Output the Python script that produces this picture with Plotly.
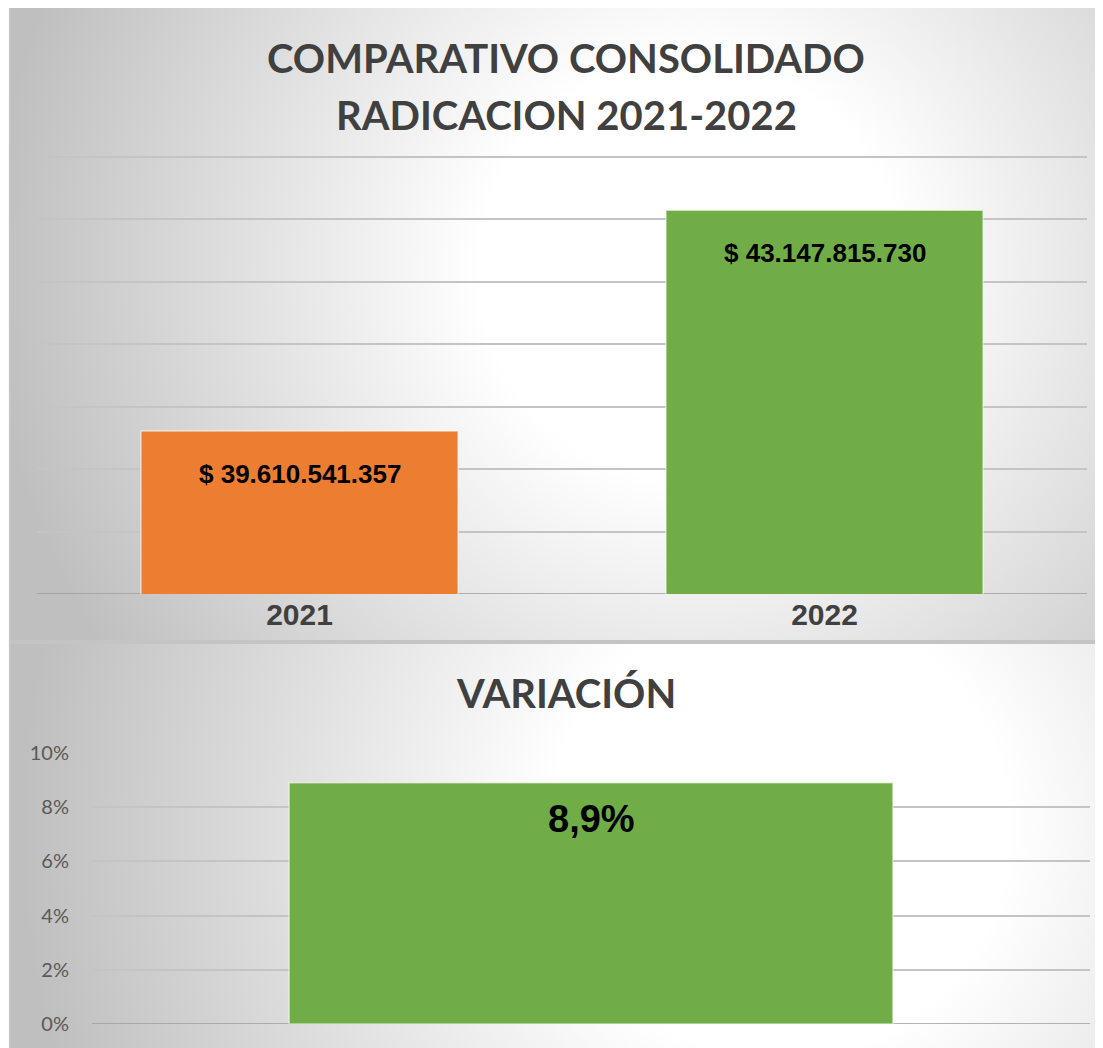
import base64
import plotly.graph_objects as go

# ---------------- data ----------------
years = ["2021", "2022"]
radicacion = [39610541357, 43147815730]
year_colors = ["#ED7D31", "#70AD47"]

variacion_cat = ["Variación"]
variacion = [0.089]

title_lines = ["COMPARATIVO CONSOLIDADO", "RADICACION 2021-2022"]
title_bottom = "VARIACIÓN"

# page offset (body margin) and figure size
OX, OY = 8, 8
W, H = 1103 - OX, 1048 - OY


def fx(px):
    return (px - OX) / W


def fy(py):
    return 1 - (py - OY) / H


def money(v):
    return "$ " + f"{v:,.0f}".replace(",", ".")


def pct(v):
    return f"{v*100:.1f}%".replace(".", ",")


fig = go.Figure()

fig.add_trace(go.Bar(
    x=years, y=radicacion, marker=dict(color=year_colors,
                                       line=dict(color="rgba(255,255,255,0.55)", width=1.5)),
    width=0.604, xaxis="x", yaxis="y", showlegend=False, hoverinfo="skip",
))
fig.add_trace(go.Bar(
    x=variacion_cat, y=variacion, marker=dict(color="#70AD47",
                                              line=dict(color="rgba(255,255,255,0.55)", width=1.5)),
    width=0.605, xaxis="x2", yaxis="y2", showlegend=False, hoverinfo="skip",
))

annotations = []
for i, v in enumerate(radicacion):
    annotations.append(dict(x=i, y=v, xref="x", yref="y", text=money(v), showarrow=False,
                            yanchor="middle", yshift=-43,
                            font=dict(family="Liberation Sans", size=26, color="#000000", weight="bold")))
for i, v in enumerate(variacion):
    annotations.append(dict(x=i, y=v, xref="x2", yref="y2", text=pct(v), showarrow=False,
                            yanchor="middle", yshift=-36,
                            font=dict(family="Liberation Sans", size=38, color="#000000", weight="bold")))

title_font = dict(family="Lato", size=40, color="#404040", weight="bold")
annotations.append(dict(x=fx(566), y=fy(58), xref="paper", yref="paper", text=title_lines[0],
                        showarrow=False, xanchor="center", yanchor="middle", font=title_font))
annotations.append(dict(x=fx(566), y=fy(115), xref="paper", yref="paper", text=title_lines[1],
                        showarrow=False, xanchor="center", yanchor="middle", font=title_font))
annotations.append(dict(x=fx(566), y=fy(693), xref="paper", yref="paper", text=title_bottom,
                        showarrow=False, xanchor="center", yanchor="middle", font=title_font))

# background: two panels with radial gradients (coords relative to figure)
svg = f'''<svg xmlns="http://www.w3.org/2000/svg" width="{W}" height="{H}" viewBox="0 0 {W} {H}">
<defs>
<radialGradient id="g1" gradientUnits="userSpaceOnUse" cx="{690-OX}" cy="{270-OY}" r="700">
<stop offset="0" stop-color="#ffffff"/><stop offset="0.3" stop-color="#ffffff"/>
<stop offset="1" stop-color="#bfbfbf"/></radialGradient>
<radialGradient id="g2" gradientUnits="userSpaceOnUse" cx="{780-OX}" cy="{830-OY}" r="760">
<stop offset="0" stop-color="#ffffff"/><stop offset="0.3" stop-color="#ffffff"/>
<stop offset="1" stop-color="#bfbfbf"/></radialGradient>
</defs>
<rect x="0" y="0" width="{W}" height="{H}" fill="#fafafa"/>
<rect x="{10-OX}" y="{5-OY}" width="1110" height="{641-5}" fill="url(#g1)" stroke="#c4c4c4" stroke-width="2"/>
<rect x="{10-OX}" y="{643-OY}" width="1110" height="420" fill="url(#g2)" stroke="#c4c4c4" stroke-width="2"/>
</svg>'''
src = "data:image/svg+xml;base64," + base64.b64encode(svg.encode()).decode()

Y_TOP = 44.05e9   # small headroom so the 44e9 gridline is drawn
top_px = 157 - (Y_TOP - 44e9) / 1e9 * (594 - 157) / 7

fig.update_layout(
    width=W, height=H,
    margin=dict(l=0, r=0, t=0, b=0, autoexpand=False),
    paper_bgcolor="#fafafa", plot_bgcolor="rgba(0,0,0,0)",
    images=[dict(source=src, xref="paper", yref="paper", x=0, y=1, sizex=1, sizey=1,
                 xanchor="left", yanchor="top", sizing="stretch", layer="below")],
    annotations=annotations,
    xaxis=dict(type="category", range=[-0.5, 1.5], domain=[fx(37), fx(1087)], showgrid=False,
               showline=False, ticks="",
               tickfont=dict(family="Liberation Sans", size=30, color="#404040", weight="bold"),
               ticklabelstandoff=0, automargin=False, fixedrange=True),
    yaxis=dict(domain=[fy(594), fy(top_px)], range=[37e9, Y_TOP], tick0=37e9, dtick=1e9,
               showticklabels=False, gridcolor="#c4c4c4", gridwidth=1.5, zeroline=False,
               showline=False, automargin=False, fixedrange=True),
    xaxis2=dict(type="category", range=[-0.5, 0.5], domain=[fx(92), fx(1090)], anchor="y2",
                showgrid=False, showline=False, showticklabels=False, ticks="",
                automargin=False, fixedrange=True),
    yaxis2=dict(domain=[fy(1024), fy(753)], anchor="x2", range=[0, 0.10001], tick0=0, dtick=0.02,
                tickformat=".0%", gridcolor="#c4c4c4", gridwidth=1.5, zeroline=False,
                showline=False, ticklabelstandoff=22, automargin=False,
                tickfont=dict(family="Lato", size=20, color="#595959"), fixedrange=True),
    shapes=[
        dict(type="line", xref="x domain", yref="y", x0=0, x1=1, y0=37e9, y1=37e9,
             line=dict(color="#9c9c9c", width=1.5), layer="below"),
        dict(type="line", xref="x2 domain", yref="y2", x0=0, x1=1, y0=0, y1=0,
             line=dict(color="#9c9c9c", width=1.5), layer="below"),
    ],
)

fig.write_html("out.html")
